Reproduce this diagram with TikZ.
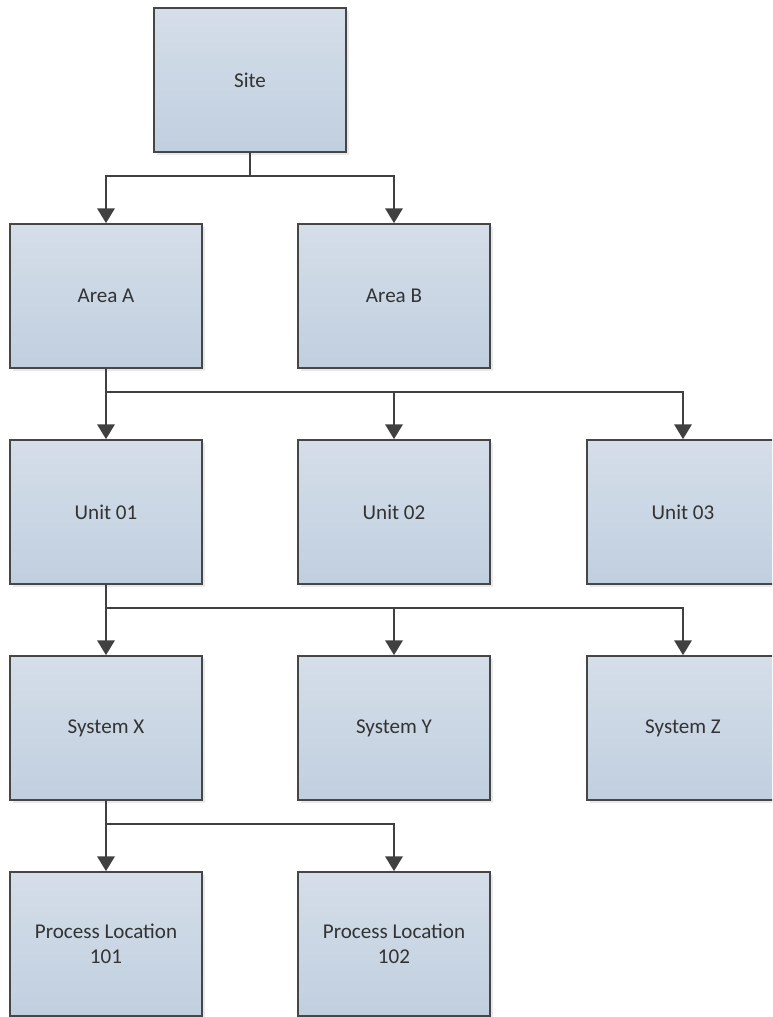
\documentclass[tikz,border=0pt]{standalone}
\usepackage{fontspec}
\setmainfont{Carlito}
\usetikzlibrary{arrows.meta,shadows}
\definecolor{boxtop}{RGB}{213,222,233}
\definecolor{boxbot}{RGB}{192,207,223}
\definecolor{boxline}{RGB}{70,70,70}
\definecolor{connline}{RGB}{64,64,64}
\begin{document}
\begin{tikzpicture}[x=0.75pt,y=-0.75pt,
  box/.style={draw=boxline, line width=1.3pt, top color=boxtop, bottom color=boxbot,
    minimum width=144pt, minimum height=108pt, inner sep=0pt, align=center,
    font=\fontsize{15.8}{18.8}\selectfont, text=black!80,
    drop shadow={shadow xshift=2pt, shadow yshift=-2pt, opacity=0.18}},
  conn/.style={draw=connline, line width=1.3pt},
  arr/.style={conn, -{Triangle[length=11pt, width=13pt]}}]
\useasboundingbox (0,0) rectangle (772,1017);
\clip (0,0) rectangle (772,1017);
% boxes
\node[box] (site)   at (250,80)  {Site};
\node[box] (areaA)  at (106,296) {Area A};
\node[box] (areaB)  at (394,296) {Area B};
\node[box] (unit1)  at (106,512) {Unit 01};
\node[box] (unit2)  at (394,512) {Unit 02};
\node[box] (unit3)  at (683,512) {Unit 03};
\node[box] (sysX)   at (106,728) {System X};
\node[box] (sysY)   at (394,728) {System Y};
\node[box] (sysZ)   at (683,728) {System Z};
\node[box] (pl1)    at (106,944) {Process Location\\101};
\node[box] (pl2)    at (394,944) {Process Location\\102};
% bus points
\coordinate (b0) at (250,176);
\coordinate (b1) at (106,392);
\coordinate (b2) at (106,608);
\coordinate (b3) at (106,824);
% connectors
\draw[conn] (site.south) -- (b0);
\draw[arr] (b0) -| (areaA.north);
\draw[arr] (b0) -| (areaB.north);
\draw[arr] (areaA.south) -- (unit1.north);
\draw[arr] (b1) -| (unit2.north);
\draw[arr] (b1) -| (unit3.north);
\draw[arr] (unit1.south) -- (sysX.north);
\draw[arr] (b2) -| (sysY.north);
\draw[arr] (b2) -| (sysZ.north);
\draw[arr] (sysX.south) -- (pl1.north);
\draw[arr] (b3) -| (pl2.north);
\end{tikzpicture}
\end{document}
